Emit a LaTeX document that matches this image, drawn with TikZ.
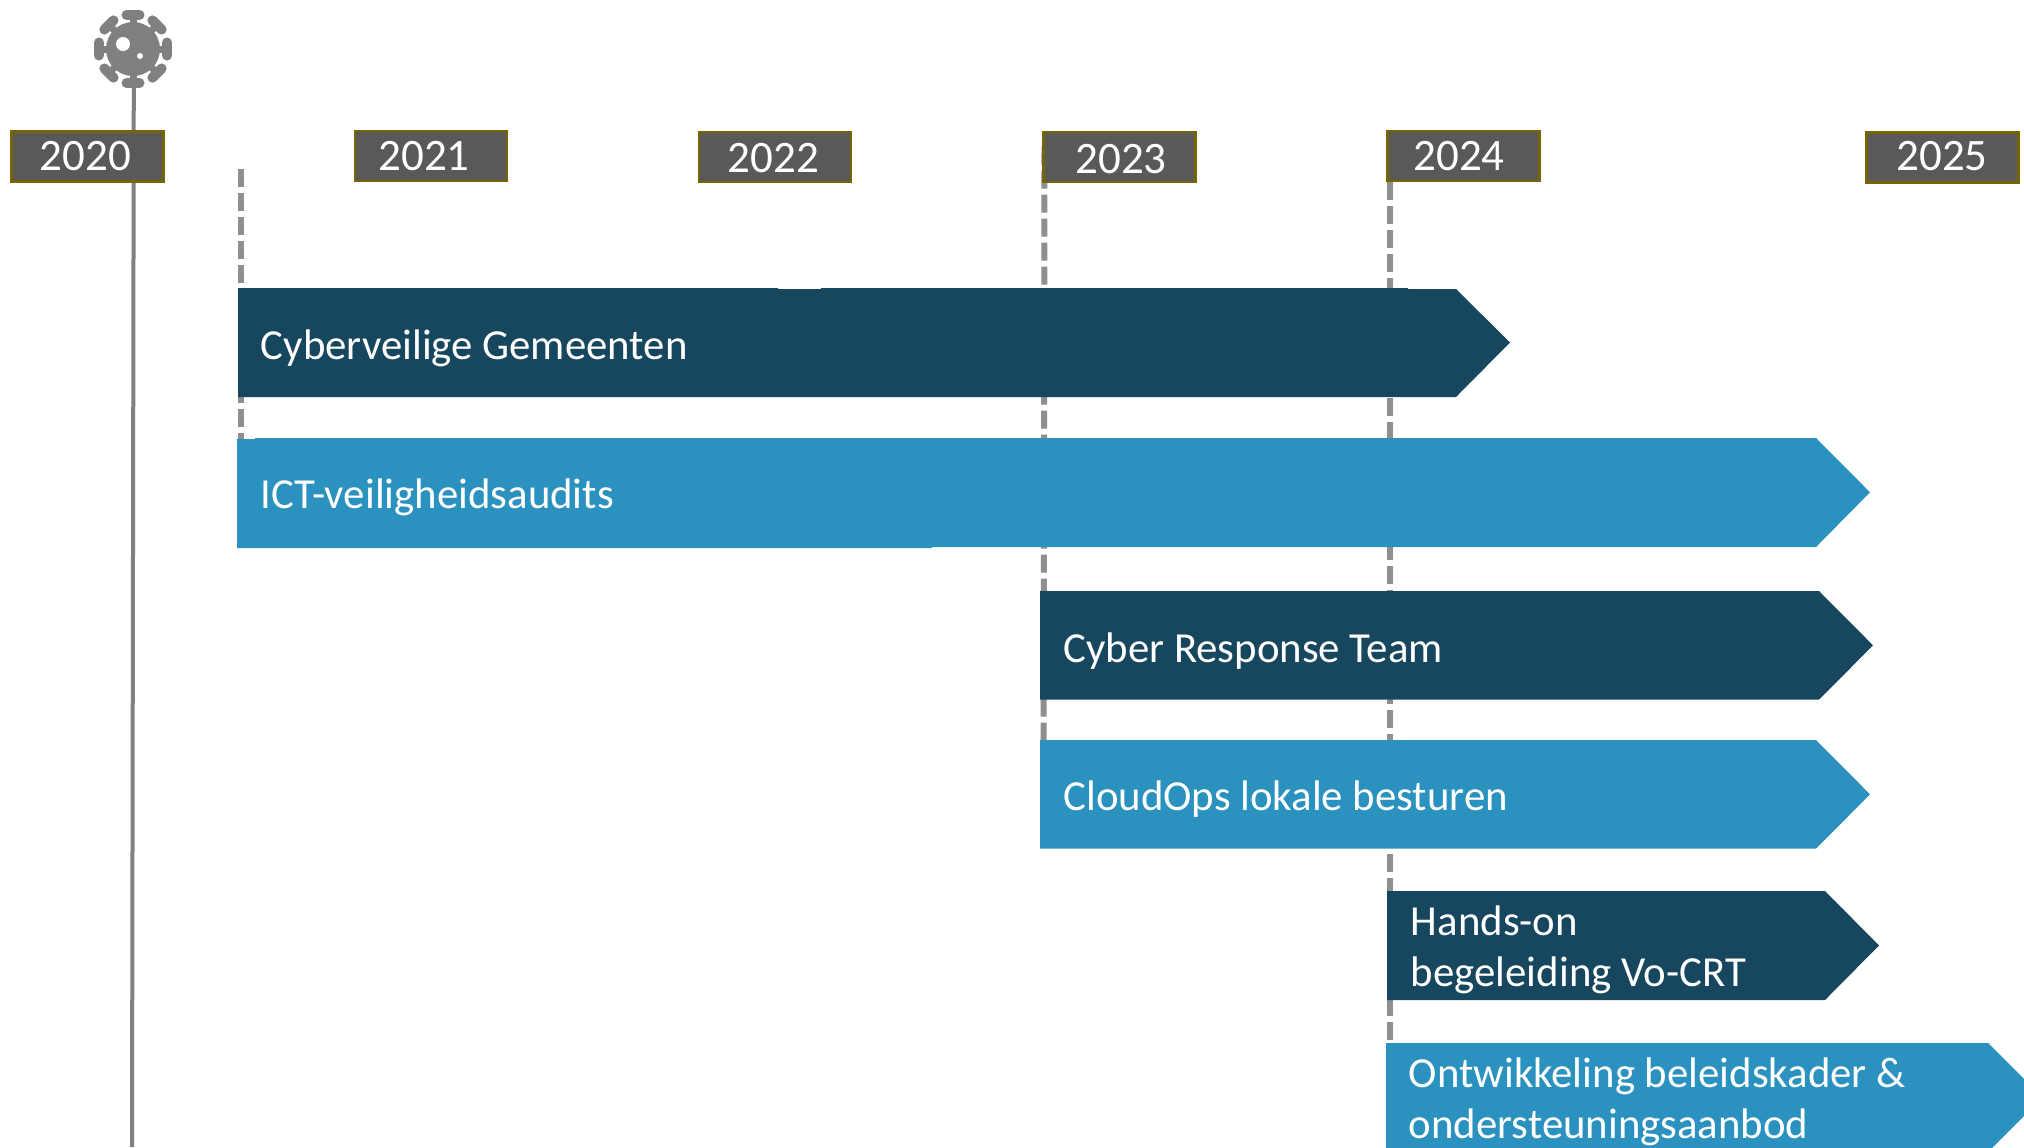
\documentclass[tikz,border=0pt]{standalone}
\usepackage{fontspec}
\setmainfont{Carlito}
\definecolor{darkbar}{HTML}{17475E}
\definecolor{lightbar}{HTML}{2B91BE}
\definecolor{yearfill}{HTML}{595959}
\definecolor{yearedge}{HTML}{756400}
\definecolor{axisgrey}{HTML}{808080}
\definecolor{dashgrey}{HTML}{8F8F8F}
\tikzset{
  yearbox/.style={draw=yearedge,fill=yearfill,line width=1.1pt,minimum width=76pt,minimum height=25pt,inner sep=0pt,anchor=center},
  yeartext/.style={text=white,font=\fontsize{22.5}{24}\selectfont,inner sep=0pt,anchor=center},
  bartext/.style={text=white,font=\fontsize{21.4}{25.5}\selectfont,inner sep=0pt,anchor=base west,align=left},
  dashline/.style={draw=dashgrey,line width=3pt,dash pattern=on 9pt off 3pt},
  axisline/.style={draw=axisgrey,line width=2pt},
  virusstem/.style={draw=axisgrey,line width=3.5pt},
  viruscap/.style={draw=axisgrey,line width=5pt,line cap=round},
}
\begin{document}
\begin{tikzpicture}[x=0.5pt,y=-0.5pt]
\useasboundingbox (0,0) rectangle (2024,1147);
\clip (0,0) rectangle (2024,1147);
% named anchors
\coordinate (virus) at (133,49);
\coordinate (axistop) at (133.8,80);
\coordinate (axisend) at (132,1147);
\coordinate (d21a) at (240.5,169);
\coordinate (d21b) at (240.5,440);
\coordinate (d23a) at (1044.5,146.7);
\coordinate (d23b) at (1043.5,741);
\coordinate (d24a) at (1390,181.7);
\coordinate (d24b) at (1390,1043);
% lines
\draw[axisline] (axistop) -- (axisend);
\draw[dashline] (d21a) -- (d21b);
\draw[dashline] (d23a) -- (d23b);
\draw[dashline] (d24a) -- (d24b);
% virus
\fill[axisgrey] (virus) circle[radius=27];
\foreach \a in {0,45,...,315}{
  \begin{scope}[shift={(virus)},rotate=\a]
    \draw[virusstem] (24,0) -- (35,0);
    \draw[viruscap] (34,-6.5) -- (34,6.5);
  \end{scope}
}
\fill[white] (123,44) circle[radius=7];
\fill[white] (140,56) circle[radius=3];
% bars
\fill[darkbar] (238,288) -- (778,288) -- (778,289) -- (821,289) -- (821,288) -- (1408,288) -- (1408,289) -- (1456,289) -- (1510,342.5) -- (1456,397) -- (238,397) -- cycle;
\fill[lightbar] (237,439) -- (255,439) -- (255,438) -- (1816,438) -- (1870,492.3) -- (1816,547) -- (932,547) -- (932,548) -- (237,548) -- cycle;
\fill[darkbar] (1040,591) -- (1819,591) -- (1873,645.3) -- (1819,699.7) -- (1040,699.7) -- cycle;
\fill[lightbar] (1040,740) -- (1816,740) -- (1870,794.3) -- (1816,848.7) -- (1040,848.7) -- cycle;
\fill[darkbar] (1387,891) -- (1825,891) -- (1879,945.5) -- (1825,1000) -- (1387,1000) -- cycle;
\fill[lightbar] (1386,1043) -- (1988,1043) -- (2042.5,1097.5) -- (1988,1152) -- (1386,1152) -- cycle;
% bar labels
\node[bartext] (b1) at (260.5,359) {Cyberveilige Gemeenten};
\node[bartext] (b2) at (260.5,508.3) {ICT-veiligheidsaudits};
\node[bartext] (b3) at (1063,662) {Cyber Response Team};
\node[bartext] (b4) at (1063,810.6) {CloudOps lokale besturen};
\node[bartext] (b5) at (1410.5,986.6) {Hands-on\\begeleiding Vo-CRT};
\node[bartext] (b6) at (1408.5,1138.6) {Ontwikkeling beleidskader \&\\ondersteuningsaanbod};
% year boxes
\node[yearbox] (y20) at (87.5,156.5) {};
\node[yearbox] (y21) at (431,156) {};
\node[yearbox] (y22) at (775,157) {};
\node[yearbox] (y23) at (1119.5,157) {};
\node[yearbox] (y24) at (1463.5,156) {};
\node[yearbox] (y25) at (1942.5,157.5) {};
\node[yeartext] (t20) at (85.5,156) {2020};
\node[yeartext] (t21) at (424,156) {2021};
\node[yeartext] (t22) at (773.5,158) {2022};
\node[yeartext] (t23) at (1121,158.7) {2023};
\node[yeartext] (t24) at (1459,156) {2024};
\node[yeartext] (t25) at (1942,156.5) {2025};
\end{tikzpicture}
\end{document}
